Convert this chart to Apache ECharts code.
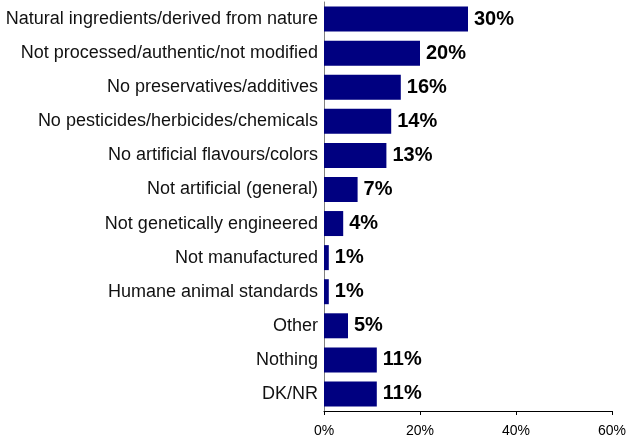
<!DOCTYPE html>
<html>
<head>
<meta charset="utf-8">
<script src="https://cdn.jsdelivr.net/npm/echarts@6/dist/echarts.min.js"></script>
<style>
  html, body { margin: 0; padding: 0; background: #fff; }
  #chart { width: 628px; height: 442px; }
</style>
</head>
<body>
<div id="chart"></div>
<script>
// Reasons given, listed top to bottom
const categories = [
  'Natural ingredients/derived from nature',
  'Not processed/authentic/not modified',
  'No preservatives/additives',
  'No pesticides/herbicides/chemicals',
  'No artificial flavours/colors',
  'Not artificial (general)',
  'Not genetically engineered',
  'Not manufactured',
  'Humane animal standards',
  'Other',
  'Nothing',
  'DK/NR'
];
// Share of respondents, percent
const shares = [30, 20, 16, 14, 13, 7, 4, 1, 1, 5, 11, 11];
// Axis ticks, percent
const axisTicks = [0, 20, 40, 60];

const chart = echarts.init(document.getElementById('chart'));
chart.setOption({
  animation: false,
  grid: {
    left: 324, right: 16, top: 2, bottom: 31,
    containLabel: false,
    outerBoundsMode: 'none'
  },
  xAxis: {
    type: 'value',
    min: axisTicks[0],
    max: axisTicks[axisTicks.length - 1],
    interval: axisTicks[1] - axisTicks[0],
    axisLine: { show: true, lineStyle: { color: '#000', width: 1 } },
    axisTick: { show: true, length: 4, lineStyle: { color: '#000' } },
    splitLine: { show: false },
    axisLabel: {
      formatter: '{value}%',
      fontFamily: 'Liberation Sans, Arial, sans-serif',
      fontSize: 14,
      color: '#000',
      margin: 13
    }
  },
  yAxis: {
    type: 'category',
    data: categories,
    inverse: true,
    axisLine: { show: true, lineStyle: { color: '#808080', width: 1 } },
    axisTick: { show: false },
    axisLabel: {
      fontFamily: 'Liberation Sans, Arial, sans-serif',
      fontSize: 18,
      color: '#111',
      margin: 6
    }
  },
  series: [{
    type: 'bar',
    data: shares,
    barWidth: 25,
    itemStyle: { color: '#000080' },
    label: {
      show: true,
      position: 'right',
      distance: 6,
      formatter: '{c}%',
      fontFamily: 'Liberation Sans, Arial, sans-serif',
      fontWeight: 'bold',
      fontSize: 20,
      color: '#000'
    }
  }]
});
</script>
</body>
</html>
